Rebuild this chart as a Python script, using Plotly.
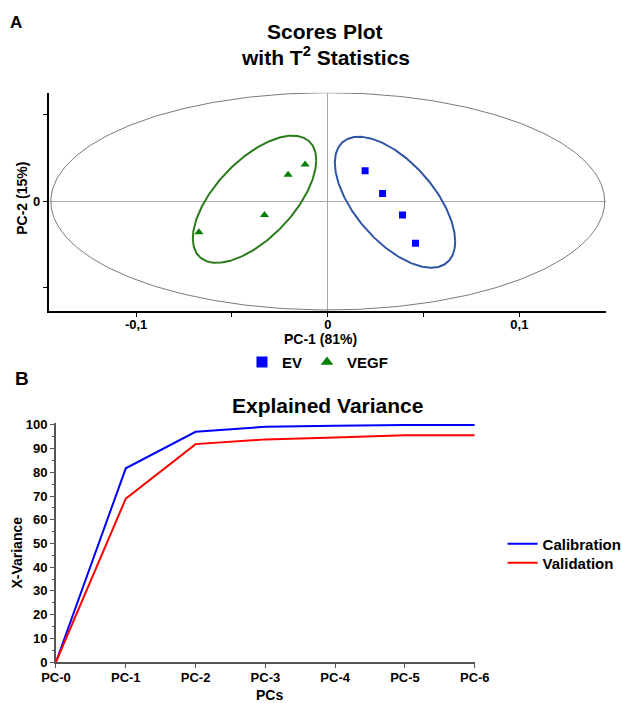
import numpy as np
import plotly.graph_objects as go

# ---------- Panel A: scores ----------
ev_pc1 = [0.0195, 0.0286, 0.0390, 0.0458]
ev_pc2 = [0.0177, 0.0046, -0.0079, -0.0242]
vegf_pc1 = [-0.0672, -0.0330, -0.0207, -0.0118]
vegf_pc2 = [-0.0179, -0.0079, 0.0154, 0.0213]

# Hotelling T2 ellipse semi-axes (PC-1, PC-2)
t2_semi = [0.1445, 0.0627]
# group ellipses: centre x, centre y, half-width, half-height, phase (deg)
vegf_ell = [-0.0382, 0.0012, 0.0322, 0.0367, 52]
ev_ell = [0.0351, -0.0005, 0.0314, 0.0378, 127]

x_ticks_a = [-0.1, -0.05, 0, 0.05, 0.1]
x_ticktext_a = ["-0,1", "", "0", "", "0,1"]
y_ticks_a = [-0.05, 0, 0.05]
y_ticktext_a = ["", "0", ""]

# ---------- Panel B: explained variance ----------
pcs = ["PC-0", "PC-1", "PC-2", "PC-3", "PC-4", "PC-5", "PC-6"]
calibration = [0, 81.7, 97.1, 99.2, 99.6, 100, 100]
validation = [0, 68.9, 91.9, 93.9, 94.7, 95.6, 95.6]

FONT = "Liberation Sans, Arial, sans-serif"
t = np.linspace(0, 2 * np.pi, 361)

def ell(p):
    cx, cy, ax, ay, ph = p
    return cx + ax * np.cos(t), cy + ay * np.cos(t - np.radians(ph))

fig = go.Figure()

fig.add_trace(go.Scatter(x=t2_semi[0] * np.cos(t), y=t2_semi[1] * np.sin(t), mode="lines",
                         line=dict(color="#7a7a7a", width=1), showlegend=False, hoverinfo="skip",
                         xaxis="x", yaxis="y"))
gx, gy = ell(vegf_ell)
fig.add_trace(go.Scatter(x=gx, y=gy, mode="lines", line=dict(color="#2b7a1c", width=2),
                         showlegend=False, hoverinfo="skip", xaxis="x", yaxis="y"))
bx, by = ell(ev_ell)
fig.add_trace(go.Scatter(x=bx, y=by, mode="lines", line=dict(color="#2f55a4", width=2),
                         showlegend=False, hoverinfo="skip", xaxis="x", yaxis="y"))

fig.add_trace(go.Scatter(x=ev_pc1, y=ev_pc2, mode="markers", name="EV",
                         marker=dict(symbol="square", size=7, color="#0000ff"),
                         showlegend=False, xaxis="x", yaxis="y"))
fig.add_trace(go.Scatter(x=vegf_pc1, y=vegf_pc2, mode="markers", name="VEGF",
                         marker=dict(symbol="triangle-up", size=8, color="#008000"),
                         showlegend=False, xaxis="x", yaxis="y"))
# legend entries for panel A
fig.add_trace(go.Scatter(x=[None], y=[None], mode="markers", name="EV",
                         marker=dict(symbol="square", size=11, color="#0000ff"),
                         legend="legend", xaxis="x", yaxis="y"))
fig.add_trace(go.Scatter(x=[None], y=[None], mode="markers", name="VEGF",
                         marker=dict(symbol="triangle-up", size=11, color="#008000"),
                         legend="legend", xaxis="x", yaxis="y"))

fig.add_trace(go.Scatter(x=pcs, y=calibration, mode="lines", name="Calibration",
                         line=dict(color="#0000ff", width=2), xaxis="x2", yaxis="y2",
                         legend="legend2"))
fig.add_trace(go.Scatter(x=pcs, y=validation, mode="lines", name="Validation",
                         line=dict(color="#ff0000", width=2), xaxis="x2", yaxis="y2",
                         legend="legend3"))

axis_common = dict(showgrid=False, ticks="outside", ticklen=4, tickcolor="black",
                   showline=True, linecolor="black", linewidth=1.5, automargin=False,
                   tickfont=dict(family=FONT, size=13, color="black", weight="bold"))
gray_axis = {**axis_common, "linecolor": "#555555", "linewidth": 2, "tickcolor": "#555555"}

fig.update_layout(
    width=622, height=703,
    margin=dict(l=0, r=0, t=0, b=0, pad=0, autoexpand=False),
    paper_bgcolor="white", plot_bgcolor="white",
    font=dict(family=FONT, color="black", size=13, weight="bold"),
    xaxis=dict(domain=[0.0783, 0.9746], anchor="y", range=[-0.1456, 0.1453],
               tickvals=x_ticks_a, ticktext=x_ticktext_a, ticklabelstandoff=-3,
               zeroline=True, zerolinecolor="#a8a8a8", zerolinewidth=1, **axis_common),
    yaxis=dict(domain=[0.5576, 0.8681], anchor="x", range=[-0.0633, 0.0627],
               tickvals=y_ticks_a, ticktext=y_ticktext_a,
               zeroline=True, zerolinecolor="#a8a8a8", zerolinewidth=1, **axis_common),
    xaxis2=dict(domain=[0.0900, 0.7633], anchor="y2", type="category", range=[0, 6],
                zeroline=False, ticklabelstandoff=-2, **gray_axis),
    yaxis2=dict(domain=[0.0583, 0.3976], anchor="x2", range=[0, 100.6], dtick=10, tick0=0,
                zeroline=False, minor=dict(dtick=5, ticks="outside", ticklen=2, tickcolor="#555555"),
                **gray_axis),
    legend=dict(orientation="h", x=0.5104, y=0.4846, xanchor="center", yanchor="middle",
                font=dict(family=FONT, size=15, color="black", weight="bold"),
                bgcolor="rgba(0,0,0,0)", itemwidth=30),
    legend2=dict(x=0.808, y=0.2262, xanchor="left", yanchor="middle",
                 font=dict(family=FONT, size=15, color="black", weight="bold"),
                 bgcolor="rgba(0,0,0,0)"),
    legend3=dict(x=0.808, y=0.1991, xanchor="left", yanchor="middle",
                 font=dict(family=FONT, size=15, color="black", weight="bold"),
                 bgcolor="rgba(0,0,0,0)"),
)

def ann(text, x, y, size, angle=0):
    fig.add_annotation(text=text, x=x, y=y, xref="paper", yref="paper", showarrow=False,
                       xanchor="center", yanchor="middle", textangle=angle,
                       font=dict(family=FONT, size=size, color="black", weight="bold"))

ann("A", 15.8 / 622, 1 - 22.7 / 703, 17)
ann("Scores Plot", 325 / 622, 1 - 31 / 703, 21)
ann("with T<sup>2</sup> Statistics", 325 / 622, 1 - 56 / 703, 21)
ann("PC-1 (81%)", 320 / 622, 1 - 339.3 / 703, 14)
ann("PC-2 (15%)", 21.8 / 622, 1 - 198 / 703, 14, -90)
ann("B", 21.8 / 622, 1 - 378.3 / 703, 19)
ann("Explained Variance", 327.7 / 622, 1 - 405.7 / 703, 21)
ann("X-Variance", 16.6 / 622, 1 - 553 / 703, 14, -90)
ann("PCs", 269.4 / 622, 1 - 694.5 / 703, 14)

fig.write_html("out.html", config={"displayModeBar": False},
               post_script="document.body.style.margin='0';")
